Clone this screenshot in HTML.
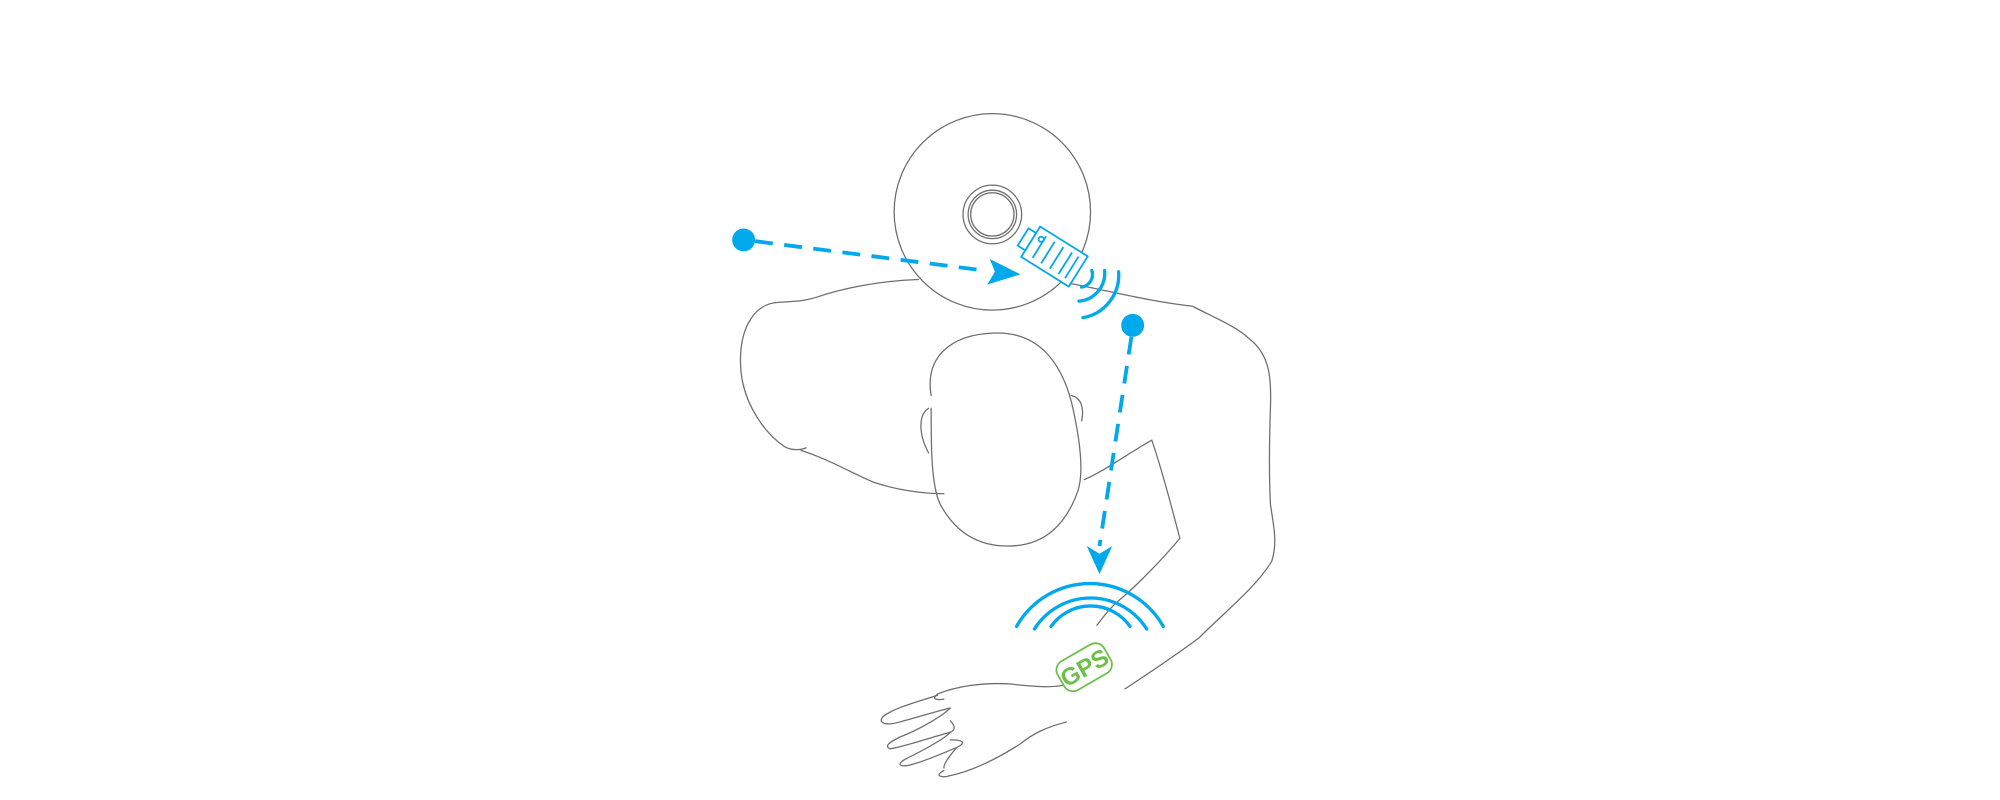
<!DOCTYPE html>
<html><head><meta charset="utf-8"><style>html,body{margin:0;padding:0;background:#fff;width:2000px;height:800px;overflow:hidden}</style></head><body>
<svg width="2000" height="800" viewBox="0 0 1568 627" xmlns="http://www.w3.org/2000/svg">
<g fill="none" stroke="#6e6e6e" stroke-width="1" stroke-linecap="round">
<circle cx="778" cy="166" r="77"/>
<circle cx="778" cy="168" r="23"/>
<circle cx="778" cy="168" r="19"/>
<circle cx="778" cy="168" r="17"/>
<path d="M720 219 C690 220 660 226 640 233 C630 236 625 236 610 237 C590 238 578 260 581 292 C584 318 600 340 615 350 C622 354 630 352 632 351"/>
<path d="M628 353 C650 360 670 372 685 378 C700 383 720 387 740 387"/>
<path d="M838 222 C870 228 900 236 935 240 C950 248 970 256 980 266 C995 278 997 295 996 320 C995 350 995 375 996 395 C998 410 1002 425 997 440 C985 460 960 480 940 500 C920 515 900 528 882 540"/>
<path d="M903 345 C910 365 918 395 925 422"/>
<path d="M925 422 C910 440 890 460 878 470 C868 478 862 488 860 490"/>
<path d="M903 345 C885 355 868 368 850 376"/>
<path d="M730 310 C725 280 745 262 780 261 C815 260 832 285 840 315 C847 345 850 370 845 385 C836 410 820 428 790 428 C760 428 745 410 737 395 C730 380 730 350 730 320"/>
<path d="M728 320 C720 325 720 340 728 355"/>
<path d="M840 310 C848 312 850 320 848 330"/>
<path d="M836 566 C820 570 810 575 800 583 C780 596 760 605 745 608 C738 610 732 608 740 604"/>
<path d="M838 536 C825 540 810 538 790 536 C770 535 750 538 735 544 C730 548 734 549 740 548"/>
<path d="M735 545 C720 550 700 555 692 562 C688 567 695 569 705 566 C720 562 740 556 745 555"/>
<path d="M745 555 C740 560 725 570 705 578 C697 582 693 585 698 587 C710 585 730 578 745 574 C750 572 748 568 745 565"/>
<path d="M745 574 C740 580 720 590 710 595 C703 599 705 601 712 600 C725 597 740 590 750 586 C758 582 755 580 745 580"/>
<path d="M750 586 C745 592 740 598 740 602"/>
</g>
<g stroke="#00a8ec" stroke-width="3" fill="none" stroke-dasharray="14 9">
<path d="M592 189 L772 212"/>
<path d="M887 264 L862 428"/>
</g>
<circle cx="583" cy="188" r="9" fill="#00a8ec"/>
<circle cx="888" cy="255" r="9" fill="#00a8ec"/>
<path d="M776 203 L800 215 L774 223 L780 213 Z" fill="#00a8ec"/>
<path d="M852 428 L862 450 L872 428 L862 434 Z" fill="#00a8ec"/>
<g transform="translate(825,200) rotate(32)" fill="none" stroke="#00a8ec" stroke-width="1.4">
<rect x="-20" y="-14" width="44" height="28" fill="#fff"/>
<rect x="-27" y="-8" width="7" height="16" fill="#fff"/>
<path d="M-12 -10 v20 M-4 -10 v20 M4 -10 v20 M12 -10 v20 M18 -10 v20"/>
<circle cx="-14" cy="-6" r="2"/>
</g>
<g stroke="#00a8ec" stroke-width="2.6" fill="none" stroke-linecap="round">
<path d="M848 225 A10 10 0 0 0 856 212"/>
<path d="M846 236 A22 22 0 0 0 866 212"/>
<path d="M849 249 A34 34 0 0 0 877 213"/>
<path d="M824 491 A38 38 0 0 1 886 491"/>
<path d="M811 493 A52 52 0 0 1 899 493"/>
<path d="M797 491 A66 66 0 0 1 912 491"/>
</g>
<g transform="translate(850,523) rotate(-30)">
<rect x="-21" y="-13" width="42" height="26" rx="8" fill="#fff" stroke="#6cc04a" stroke-width="1.4"/>
<text x="0" y="7" text-anchor="middle" font-family="Liberation Sans, sans-serif" font-size="19" font-weight="bold" fill="#6cc04a">GPS</text>
</g>
</svg>
</body></html>
